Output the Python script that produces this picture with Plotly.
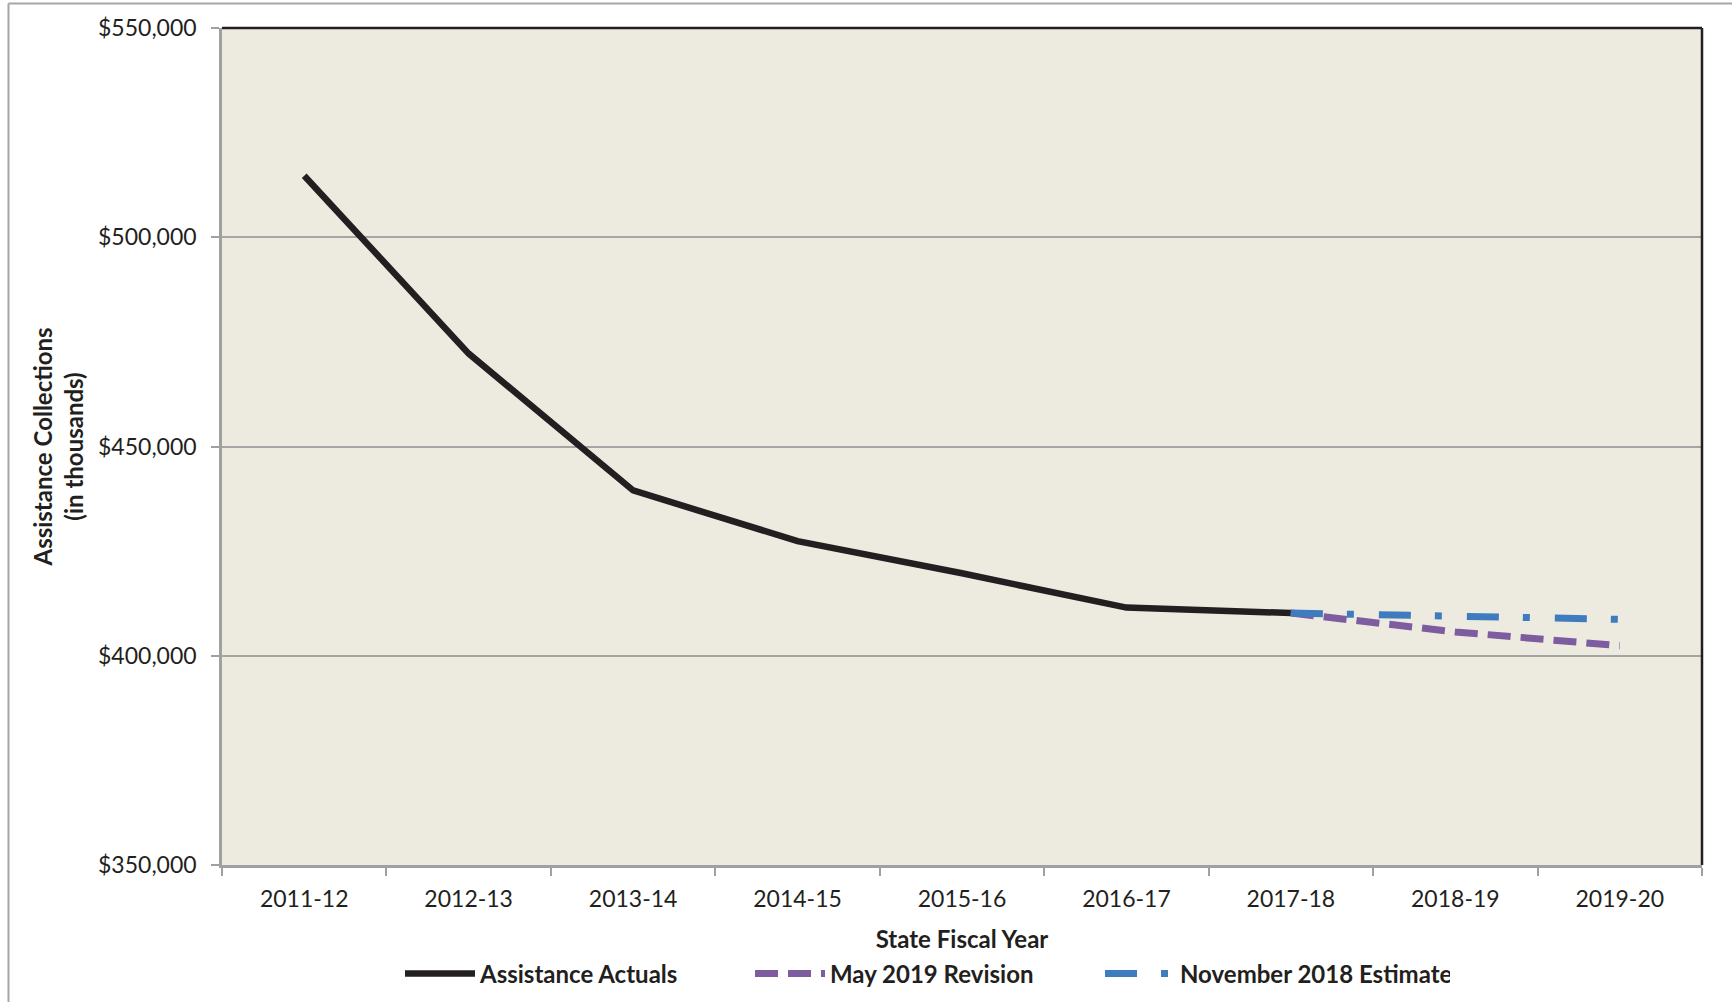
import plotly.graph_objects as go

# ---- data (values in thousands of dollars) ----
years = ["2011-12", "2012-13", "2013-14", "2014-15", "2015-16",
         "2016-17", "2017-18", "2018-19", "2019-20"]
actual_years = years[:7]
actual_values = [514700, 472200, 439500, 427400, 419700, 411500, 410200]
proj_years = years[6:]
may2019_values = [410200, 405700, 402400]
nov2018_values = [410200, 409300, 408700]
y_ticks = [350000, 400000, 450000, 500000, 550000]
y_tick_labels = ["$350,000", "$400,000", "$450,000", "$500,000", "$550,000"]

FONT = "Lato"
TXT = "#231f20"

fig = go.Figure()
fig.add_trace(go.Scatter(
    x=actual_years, y=actual_values, mode="lines", name="Assistance Actuals",
    line=dict(color="#231f20", width=6.5)))
fig.add_trace(go.Scatter(
    x=proj_years, y=may2019_values, mode="lines", name="May 2019 Revision",
    line=dict(color="#7d5c9f", width=7, dash="23px,10px")))
fig.add_trace(go.Scatter(
    x=proj_years, y=nov2018_values, mode="lines", name="November 2018 Estimate",
    line=dict(color="#3f7cbf", width=7, dash="32px,24px,7px,25px")))

L, R, T, B = 222, 30, 28, 137
W, H = 1732, 1002
pw, ph = W - L - R, H - T - B

fig.update_layout(
    width=W, height=H,
    margin=dict(l=L, r=R, t=T, b=B, autoexpand=False),
    paper_bgcolor="white", plot_bgcolor="#edeae0",
    font=dict(family=FONT, size=23, color=TXT),
    showlegend=True,
    legend=dict(orientation="h", x=(400 - L) / pw, xanchor="left",
                y=(H - B - 974) / ph, yanchor="middle",
                font=dict(family=FONT, size=24, color=TXT, weight="bold"),
                entrywidth=265, entrywidthmode="pixels",
                bgcolor="rgba(0,0,0,0)", itemwidth=70),
    xaxis=dict(type="category", categoryorder="array", categoryarray=years,
               range=[-0.5, 8.5], showgrid=False, showline=True,
               linecolor="#a0a0a0", linewidth=2.5,
               ticks="outside", tickson="boundaries", ticklen=8,
               tickcolor="#a0a0a0", tickwidth=2, ticklabelstandoff=12,
               tickfont=dict(family=FONT, size=23, color=TXT),
               title=dict(text="State Fiscal Year", standoff=20,
                          font=dict(family=FONT, size=24, color=TXT, weight="bold")),
               fixedrange=True),
    yaxis=dict(range=[350000, 550000], tickmode="array", tickvals=y_ticks,
               ticktext=y_tick_labels,
               showgrid=True, gridcolor="#a5a5a5", gridwidth=2,
               showline=True, linecolor="#a0a0a0", linewidth=2.5,
               ticks="outside", ticklen=8, tickcolor="#a0a0a0", tickwidth=2,
               ticklabelstandoff=10, zeroline=False,
               tickfont=dict(family=FONT, size=23, color=TXT),
               title=dict(text="Assistance Collections<br>(in thousands)", standoff=8,
                          font=dict(family=FONT, size=24, color=TXT, weight="bold")),
               fixedrange=True),
    shapes=[
        # top & right plot border (dark)
        dict(type="line", xref="paper", yref="paper", x0=0, x1=1, y0=1, y1=1,
             line=dict(color="#231f20", width=2.5), layer="above"),
        dict(type="line", xref="paper", yref="paper", x0=1, x1=1, y0=0, y1=1,
             line=dict(color="#231f20", width=2.5), layer="above"),
        # outer chart frame (top & left visible)
        dict(type="line", xref="paper", yref="paper",
             x0=(8.5 - L) / pw, x1=1.2, y0=(H - B - 3.5) / ph, y1=(H - B - 3.5) / ph,
             line=dict(color="#a6a6a6", width=2)),
        dict(type="line", xref="paper", yref="paper",
             x0=(8.5 - L) / pw, x1=(8.5 - L) / pw, y0=-0.3, y1=(H - B - 3.5) / ph,
             line=dict(color="#a6a6a6", width=2)),
    ],
)

fig.write_html("out.html", config={"displayModeBar": False},
               post_script="document.body.style.margin='0px';")
